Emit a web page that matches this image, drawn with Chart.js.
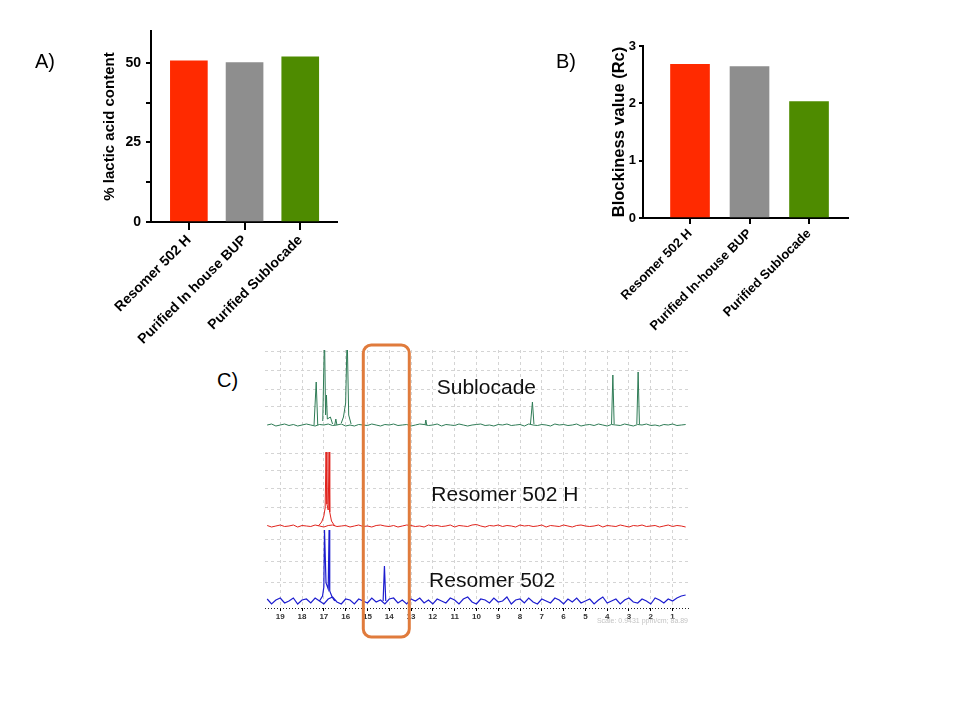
<!DOCTYPE html>
<html>
<head>
<meta charset="utf-8">
<script src="https://cdn.jsdelivr.net/npm/chart.js@4.4.0/dist/chart.umd.min.js"></script>
<style>
    body { margin: 0; background: #fff; }
    #page { position: relative; width: 960px; height: 720px; overflow: hidden; font-family: "Liberation Sans", Arial, sans-serif; }
    canvas { position: absolute; }
    .tag { position: absolute; font-size: 20px; line-height: 20px; color: #000; }
</style>
</head>
<body>
<div id="page">
    <canvas id="chartA" width="360" height="350" style="left:0;top:0"></canvas>
    <canvas id="chartB" width="400" height="350" style="left:560px;top:0"></canvas>
    <canvas id="chartC" width="460" height="330" style="left:250px;top:330px"></canvas>
    <div class="tag" style="left:35px;top:51px">A)</div>
    <div class="tag" style="left:556px;top:51px">B)</div>
    <div class="tag" style="left:217px;top:370px">C)</div>
</div>
<script>
"use strict";

// Painel A e B: barras
const categoriesA = ["Resomer 502 H", "Purified In house BUP", "Purified Sublocade"];
const categoriesB = ["Resomer 502 H", "Purified In-house BUP", "Purified Sublocade"];
const lacticValues = [50.6, 50.1, 51.9];
const blockinessValues = [2.68, 2.64, 2.03];
const lacticTicks = [0, 12.5, 25, 37.5, 50];
const blockinessTicks = [0, 1, 2, 3];
const barColors = ["#ff2a00", "#8e8e8e", "#4e8b00"];

// Painel C: espectros (ppm)
const ppmTicks = [19, 18, 17, 16, 15, 14, 13, 12, 11, 10, 9, 8, 7, 6, 5, 4, 3, 2, 1];
const spectrumNames = ["Sublocade", "Resomer 502 H", "Resomer 502"];
const noisePpm = [
    19.6, 19.4, 19.2, 19.0, 18.8, 18.6, 18.4, 18.2, 18.0, 17.8,
    17.6, 17.4, 17.2, 17.0, 16.8, 16.6, 16.4, 16.2, 16.0, 15.8,
    15.6, 15.4, 15.2, 15.0, 14.8, 14.6, 14.4, 14.2, 14.0, 13.8,
    13.6, 13.4, 13.2, 13.0, 12.8, 12.6, 12.4, 12.2, 12.0, 11.8,
    11.6, 11.4, 11.2, 11.0, 10.8, 10.6, 10.4, 10.2, 10.0, 9.8,
    9.6, 9.4, 9.2, 9.0, 8.8, 8.6, 8.4, 8.2, 8.0, 7.8,
    7.6, 7.4, 7.2, 7.0, 6.8, 6.6, 6.4, 6.2, 6.0, 5.8,
    5.6, 5.4, 5.2, 5.0, 4.8, 4.6, 4.4, 4.2, 4.0, 3.8,
    3.6, 3.4, 3.2, 3.0, 2.8, 2.6, 2.4, 2.2, 2.0, 1.8,
    1.6, 1.4, 1.2, 1.0, 0.8, 0.6, 0.4
];
const sublocadeNoise = [
    0, 1, -1, 0, 1, -0.5, 0.5, -1, 0, 1,
    0, -1, 0.5, 0, 1, -0.5, 0, 1, -1, 0,
    -1, 0.5, 0, -0.5, 1, 0, -1, 0.5, 0, 1,
    -0.5, 0, 0.5, -1, 0, 1, 0.5, -0.5, 0, 1,
    -1, 0.5, 0, -0.5, 1, 0, -1, 0, 0.5, 1,
    -0.5, 0, -1, 0.5, 0, 1, -0.5, 0, 0.5, -1,
    1, 0, -0.5, 0.5, 0, -1, 1, 0, 0.5, -0.5,
    0, 1, -1, 0, 0.5, -0.5, 1, 0, -1, 0.5,
    0, -0.5, 1, 0, -1, 0.5, 0, 1, -0.5, 0,
    -1, 0.5, 0, 1, -0.5, 0, 0.5
];
const resomerHNoise = [
    0.5, -1, 0, 1, -0.5, 0, 1, -1, 0.5, 0,
    -0.5, 1, 0, -1, 0.5, 1, -0.5, 0, 0.5, -1,
    0, 1, -0.5, 0, -1, 0.5, 1, 0, -0.5, 0.5,
    -1, 0, 1, 0.5, -0.5, 0, -1, 1, 0, 0.5,
    -0.5, 0, 1, -1, 0.5, 0, -0.5, 1, 1.5, 0,
    -1, 0.5, 0, 1, -0.5, 0.5, 0, -1, 1, 0,
    0.5, -0.5, 0, 1, -1, 0.5, 0, -0.5, 1, 0,
    -1, 0.5, 1, 0, -0.5, 0, 1, -1, 0.5, 0,
    -0.5, 1, 0, -1, 0.5, 0, 1, -0.5, 0, 0.5,
    -1, 0, 1, -0.5, 0.5, 0, -1
];
const resomerNoise = [
    2, -3, 1, 3, -2, 0, 3, -3, 1, 2,
    -2, 3, 0, -3, 2, 4, -1, -3, 2, 1,
    -3, 2, 0, -2, 3, -1, 1, -3, 2, 3,
    -2, 1, -3, 2, 0, 3, -2, 1, -3, 2,
    0, -2, 3, 1, -3, 2, 4, -1, -3, 2,
    1, -2, 3, -1, 0, 4, -3, 1, 2, -2,
    3, -1, -3, 2, 0, -2, 3, 1, -3, 2,
    -1, 3, -2, 0, 2, -3, 1, 4, -2, 0,
    2, -3, 1, 3, -1, -2, 2, 0, -3, 3,
    1, -2, 2, 0, 3, 5, 6
];
// picos (null separa os grupos)
const sublocadePeakPpm = [17.45, 17.35, 17.28, null, 17.05, 16.97, 16.92, 16.88, 16.84, 16.7, 16.6, null,
    16.5, 16.45, 16.4, null, 16.2, 16.1, 16.0, 15.93, 15.86, 15.75, null,
    12.36, 12.32, 12.28, null, 7.52, 7.43, 7.36, null, 3.8, 3.74, 3.68, null, 2.64, 2.58, 2.52];
const sublocadePeakInt = [0, 43, 0, null, 4, 90, 10, 30, 6, 8, 1, null,
    0, 6, 0, null, 2, 8, 22, 90, 10, 1, null,
    0, 5, 0, null, 1, 23, 1, null, 1, 50, 1, null, 1, 53, 1];
const resomerHPeakPpm = [17.25, 17.1, 17.0, 16.94, 16.9, 16.86, 16.8, 16.76, 16.73, 16.65, 16.5];
const resomerHPeakInt = [0, 4, 10, 18, 74, 22, 16, 74, 14, 5, 0];
const resomerPeakPpm = [17.2, 17.06, 17.0, 16.97, 16.9, 16.8, 16.76, 16.73, 16.62, 16.5, null, 14.28, 14.22, 14.16];
const resomerPeakInt = [0, 5, 14, 71, 18, 12, 71, 10, 4, 0, null, 0, 35, 0];

Chart.defaults.font.family = "'Liberation Sans', Arial, Helvetica, sans-serif";
Chart.defaults.color = "#000";

function barChart(id, cats, values, yTicks, o) {
    return new Chart(document.getElementById(id), {
        type: "bar",
        data: {
            datasets: [{
                data: values.map((v, i) => ({ x: i + 1, y: v })),
                backgroundColor: barColors,
                barThickness: o.barWidth,
                borderWidth: 0
            }]
        },
        options: {
            responsive: false,
            animation: false,
            layout: { padding: o.padding },
            plugins: { legend: { display: false }, tooltip: { enabled: false } },
            scales: {
                x: {
                    type: "linear",
                    min: o.xMin,
                    max: o.xMax,
                    offset: false,
                    z: 1,
                    afterBuildTicks: s => { s.ticks = cats.map((c, i) => ({ value: i + 1 })); },
                    afterFit: s => { s.height = o.xHeight; },
                    ticks: {
                        autoSkip: false, minRotation: 45, maxRotation: 45, padding: 2,
                        font: { size: o.xFont, weight: "bold" },
                        callback: v => cats[v - 1]
                    },
                    grid: { offset: false, drawOnChartArea: false, tickLength: o.xTick, color: "#000", lineWidth: 2 },
                    border: { color: "#000", width: 2 }
                },
                y: {
                    min: 0,
                    max: o.yMax,
                    z: 1,
                    afterBuildTicks: s => { s.ticks = yTicks.map(v => ({ value: v })); },
                    afterFit: s => { s.width = o.yWidth; },
                    ticks: {
                        padding: o.yPad,
                        font: { size: o.yFont, weight: "bold" },
                        callback: o.yLabel
                    },
                    grid: { drawOnChartArea: false, tickLength: o.yTick, color: "#000", lineWidth: 2 },
                    border: { color: "#000", width: 2 },
                    title: { display: true, text: o.title, padding: 0, font: { size: o.titleFont, weight: "bold" } }
                }
            }
        }
    });
}

barChart("chartA", categoriesA, lacticValues, lacticTicks, {
    padding: { left: 101, top: 31, right: 23, bottom: 0 },
    xMin: 0.32, xMax: 3.66, xHeight: 128, xTick: 8, xFont: 14, barWidth: 37,
    yMax: 60, yWidth: 50, yTick: 5, yPad: 5, yFont: 14, titleFont: 15,
    yLabel: v => (v % 25 === 0 ? v : ""),
    title: "% lactic acid content"
});

barChart("chartB", categoriesB, blockinessValues, blockinessTicks, {
    padding: { left: 50, top: 46, right: 112, bottom: 0 },
    xMin: 0.21, xMax: 3.655, xHeight: 132, xTick: 6, xFont: 13, barWidth: 39,
    yMax: 3, yWidth: 33, yTick: 4, yPad: 3, yFont: 13, titleFont: 16.5,
    yLabel: v => v,
    title: "Blockiness value (Rc)"
});

// Painel C
const spectra = [
    { noise: sublocadeNoise, ppm: sublocadePeakPpm, int: sublocadePeakInt, base: 183, color: "#2e7b55", width: 1 },
    { noise: resomerHNoise, ppm: resomerHPeakPpm, int: resomerHPeakInt, base: 82, color: "#e0231c", width: 1 },
    { noise: resomerNoise, ppm: resomerPeakPpm, int: resomerPeakInt, base: 7, color: "#1d1dcf", width: 1.2 }
];
const labelPos = [[11.82, 214], [12.07, 107], [12.17, 21]];
const gridLevels = [257, 238, 219, 201, 155, 138, 120, 101, 69, 47, 26];
const boxPpm = [15.19, 13.08];

const datasetsC = [];
spectra.forEach(s => {
    datasetsC.push({
        data: noisePpm.map((p, i) => ({ x: p, y: s.base + s.noise[i] })),
        borderColor: s.color, borderWidth: s.width, pointRadius: 0, tension: 0
    });
    datasetsC.push({
        data: s.ppm.map((p, i) => ({ x: p, y: s.int[i] === null ? null : s.base + s.int[i] })),
        borderColor: s.color, borderWidth: s.width, pointRadius: 0, tension: 0, spanGaps: false
    });
});

const panelC = {
    id: "panelC",
    afterDatasetsDraw(chart) {
        const { ctx, chartArea, scales: { x, y } } = chart;
        ctx.save();
        // eixo pontilhado
        ctx.strokeStyle = "#222";
        ctx.lineWidth = 1;
        ctx.setLineDash([1, 2]);
        ctx.beginPath();
        ctx.moveTo(chartArea.left, chartArea.bottom + 0.5);
        ctx.lineTo(chartArea.right, chartArea.bottom + 0.5);
        ctx.stroke();
        ctx.setLineDash([]);

        ctx.font = "21px 'Liberation Sans', Arial, sans-serif";
        ctx.fillStyle = "#111";
        ctx.textAlign = "left";
        ctx.textBaseline = "alphabetic";
        spectrumNames.forEach((name, i) => {
            ctx.fillText(name, x.getPixelForValue(labelPos[i][0]), y.getPixelForValue(labelPos[i][1]));
        });

        ctx.font = "7px 'Liberation Sans', Arial, sans-serif";
        ctx.fillStyle = "#c4c4c4";
        ctx.textAlign = "right";
        ctx.fillText("Scale: 0.9431 ppm/cm; 8a.89", chartArea.right - 2, y.getPixelForValue(-15));

        // caixa laranja
        const x1 = x.getPixelForValue(boxPpm[0]), x2 = x.getPixelForValue(boxPpm[1]);
        const y1 = y.getPixelForValue(263), y2 = y.getPixelForValue(-29);
        const r = 8;
        ctx.strokeStyle = "#e07b3c";
        ctx.lineWidth = 3;
        ctx.beginPath();
        ctx.moveTo(x1 + r, y1);
        ctx.arcTo(x2, y1, x2, y2, r);
        ctx.arcTo(x2, y2, x1, y2, r);
        ctx.arcTo(x1, y2, x1, y1, r);
        ctx.arcTo(x1, y1, x2, y1, r);
        ctx.closePath();
        ctx.stroke();
        ctx.restore();
    }
};

new Chart(document.getElementById("chartC"), {
    type: "line",
    data: { datasets: datasetsC },
    options: {
        responsive: false,
        animation: false,
        layout: { padding: { left: 15, top: 20, right: 20, bottom: 0 } },
        plugins: { legend: { display: false }, tooltip: { enabled: false } },
        scales: {
            x: {
                type: "linear",
                reverse: true,
                min: 0.2,
                max: 19.7,
                afterBuildTicks: s => { s.ticks = ppmTicks.map(v => ({ value: v })); },
                afterFit: s => { s.height = 52; },
                ticks: { padding: 1, color: "#333", font: { size: 8, weight: "bold" } },
                grid: { color: "#d4d4d4", lineWidth: 1, tickLength: 3, tickColor: "#000" },
                border: { display: false, dash: [3, 3] }
            },
            y: {
                min: 0,
                max: 258,
                afterBuildTicks: s => { s.ticks = gridLevels.map(v => ({ value: v })); },
                afterFit: s => { s.width = 0; },
                ticks: { display: false },
                grid: { color: "#d4d4d4", lineWidth: 1, drawTicks: false },
                border: { display: false, dash: [3, 3] }
            }
        }
    },
    plugins: [panelC]
});
</script>
</body>
</html>
